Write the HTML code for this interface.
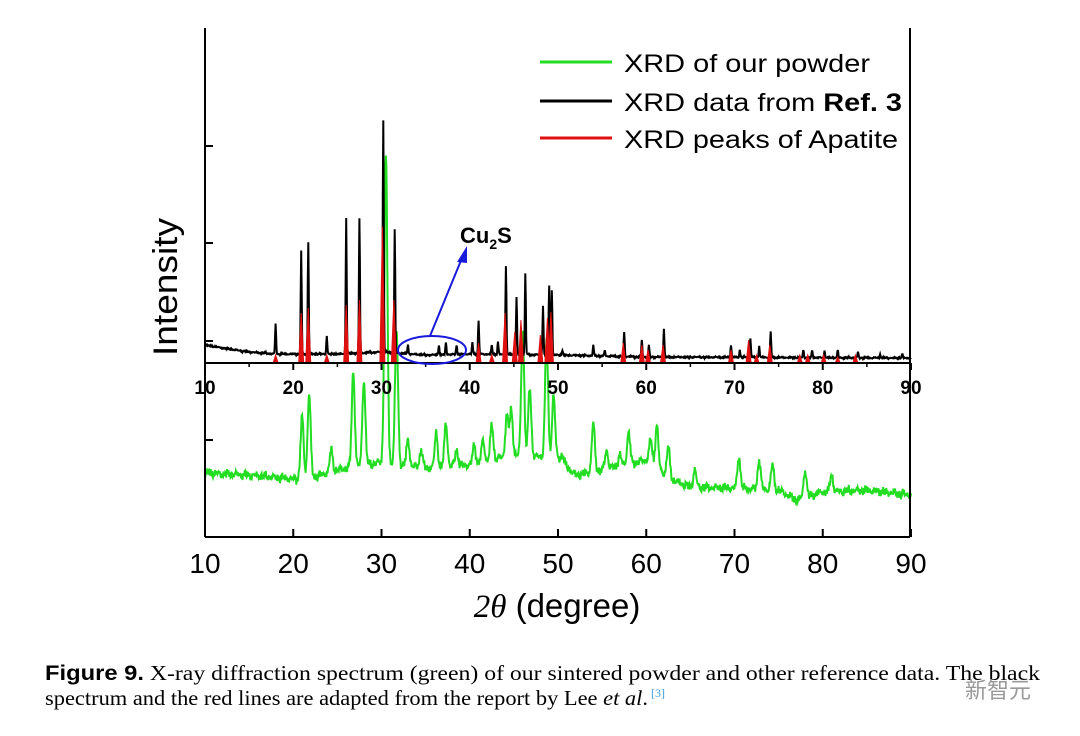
<!DOCTYPE html>
<html><head><meta charset="utf-8"><style>
html,body{margin:0;padding:0;background:#fff;}
svg{display:block;}
</style></head><body>
<svg id="chart" width="1080" height="736" viewBox="0 0 1080 736" xmlns="http://www.w3.org/2000/svg" font-family="Liberation Sans, Arial, sans-serif">
<rect width="1080" height="736" fill="#fff"/>
<g id="plot"></g>
<g id="axes"></g>
<text transform="translate(177,287) rotate(-90)" text-anchor="middle" font-size="34" textLength="138" lengthAdjust="spacingAndGlyphs">Intensity</text>
<text x="557" y="617" text-anchor="middle" font-size="33"><tspan font-family="Liberation Serif, serif" font-style="italic">2θ</tspan> (degree)</text>
<g>
<line x1="540" y1="62" x2="612" y2="62" stroke="#22dd22" stroke-width="3"/>
<text x="624" y="72" font-size="25" textLength="246" lengthAdjust="spacingAndGlyphs">XRD of our powder</text>
<line x1="540" y1="101" x2="612" y2="101" stroke="#000" stroke-width="3"/>
<text x="624" y="111" font-size="25" textLength="278" lengthAdjust="spacingAndGlyphs">XRD data from <tspan font-weight="bold">Ref. 3</tspan></text>
<line x1="540" y1="138" x2="612" y2="138" stroke="#e01010" stroke-width="3"/>
<text x="624" y="148" font-size="25" textLength="274" lengthAdjust="spacingAndGlyphs">XRD peaks of Apatite</text>
</g>
<g>
<ellipse cx="432" cy="350" rx="34" ry="14" fill="none" stroke="#1a1adc" stroke-width="2"/>
<line x1="430" y1="336" x2="462" y2="258" stroke="#1a1adc" stroke-width="2"/>
<polygon points="467,246 457,262 467,263" fill="#1a1adc"/>
<text x="460" y="243" font-size="22" font-weight="bold">Cu<tspan font-size="14" dy="6">2</tspan><tspan dy="-6">S</tspan></text>
</g>
<g font-family="Liberation Serif, serif" font-size="21">
<text x="45" y="680" textLength="995" lengthAdjust="spacingAndGlyphs"><tspan font-family="Liberation Sans, sans-serif" font-weight="bold">Figure 9.</tspan>   X-ray diffraction spectrum (green) of our sintered powder and other reference data. The black</text>
<text x="45" y="705" textLength="603" lengthAdjust="spacingAndGlyphs">spectrum and the red lines are adapted from the report by Lee <tspan font-style="italic">et al</tspan>.</text>
<text x="651" y="697" font-size="12" fill="#3aa0e0">[3]</text>
</g>
<text x="965" y="698" font-family="Noto Sans CJK SC, sans-serif" font-size="22" fill="#999">新智元</text>
</svg>
<script>
// ---- data ----
const greenBgX = [10,15,20,22,25,30,35,40,45,50,52,55,60,63,65,70,75,77,80,85,90];
const greenBgY = [473,475,479,478,470,462,468,465,455,458,475,470,460,480,487,488,490,500,492,490,495];
const greenPeakPos = [21.0,21.8,24.3,26.8,28.0,30.5,31.7,33.0,34.5,36.2,37.3,38.5,40.5,41.5,42.5,44.2,44.7,46.0,46.8,48.7,49.5,50.5,54.0,55.5,57.0,58.0,60.5,61.2,62.5,65.5,70.5,72.8,74.3,78.0,81.0];
const greenPeakTop = [417,393,450,371,380,155,330,440,450,433,423,450,445,440,425,415,410,330,388,340,395,455,423,450,455,432,440,425,447,470,457,460,465,470,475];
const blackBgX = [10,12,15,18,25,30,35,40,50,60,90];
const blackBgY = [345,348,352,354,354,352,355,354,355,357,358];
const blackPeakPos = [18.0,20.9,21.7,23.8,26.0,27.5,30.2,31.5,33.0,36.5,37.3,38.5,40.3,41.0,42.5,43.2,44.1,45.3,46.3,48.3,49.0,49.3,50.5,53.0,54.0,55.3,57.5,59.5,60.3,62.0,69.6,70.6,71.8,72.8,74.1,77.8,78.8,80.2,81.7,84.0,86.5,89.0];
const blackPeakTop = [323,250,242,336,218,218,120,230,345,345,342,345,342,321,345,342,266,297,273,305,285,290,350,355,345,350,332,340,345,328,345,350,338,346,332,350,350,351,350,352,354,354];
const redPos = [18.0,20.9,21.7,23.8,26.0,27.5,30.1,31.4,41.0,42.5,44.0,45.1,45.8,48.0,48.8,49.2,57.4,59.5,60.2,61.9,69.6,71.6,72.5,74.0,77.4,78.3,80.1,81.7,83.7];
const redTop = [355,313,308,355,305,300,227,300,343,355,313,332,320,335,318,312,343,345,350,345,350,340,355,345,355,355,355,357,355];
const xTicks = [10,20,30,40,50,60,70,80,90];
// ---- scales ----
function X(v){ return 205 + (v-10)*8.825; }
function interp(xs, ys, v){ for(let i=0;i<xs.length-1;i++){ if(v<=xs[i+1]){ const t=(v-xs[i])/(xs[i+1]-xs[i]); return ys[i]+t*(ys[i+1]-ys[i]); } } return ys[ys.length-1]; }
const NS='http://www.w3.org/2000/svg';
const plot=document.getElementById('plot'), axes=document.getElementById('axes');
function mk(tag, attrs, parent){ const e=document.createElementNS(NS,tag); for(const k in attrs) e.setAttribute(k,attrs[k]); parent.appendChild(e); return e; }
function jitter(v, a){ return a*(Math.sin(v*37.1)*0.35+Math.sin(v*91.7+1.3)*0.25+Math.sin(v*13.3+0.7)*0.25+Math.sin(v*5.9)*0.3+Math.sin(v*173.9)*0.2); }
function curve(bx,by,pp,pt,w,jit,step){
  let d='';
  for(let v=10; v<=90.0001; v+=step){
    const b=interp(bx,by,v);
    let y=b+jitter(v,jit);
    for(let i=0;i<pp.length;i++){ const h=interp(bx,by,pp[i])-pt[i]; const dx=(v-pp[i])/w; y-=h*Math.exp(-dx*dx); }
    d+=(d?'L':'M')+X(v).toFixed(1)+','+y.toFixed(1);
  }
  return d;
}
const g=mk('path',{d:curve(greenBgX,greenBgY,greenPeakPos,greenPeakTop,0.24,5,0.05),fill:'none',stroke:'#22dd22','stroke-width':2},plot);


const b=mk('path',{d:curve(blackBgX,blackBgY,blackPeakPos,blackPeakTop,0.08,1.0,0.05),fill:'none',stroke:'#000','stroke-width':2},plot);


for(let i=0;i<redPos.length;i++){
  const x=X(redPos[i]);
  const r=mk('polygon',{points:(x-2.5)+',363 '+x+','+redTop[i]+' '+(x+2.5)+',363',fill:'#e01010',stroke:'#e01010','stroke-width':1},plot);
  
  
}
// axes
mk('line',{x1:205,y1:28,x2:205,y2:537,stroke:'#000','stroke-width':2},axes);
mk('line',{x1:910,y1:28,x2:910,y2:537,stroke:'#000','stroke-width':2},axes);
mk('line',{x1:205,y1:537,x2:910,y2:537,stroke:'#000','stroke-width':2},axes);
mk('line',{x1:205,y1:363,x2:910,y2:363,stroke:'#000','stroke-width':2},axes);
[146,243,341,440].forEach(y=>mk('line',{x1:205,y1:y,x2:213,y2:y,stroke:'#000','stroke-width':2},axes));
for(let v=15; v<90; v+=10) mk('line',{x1:X(v),y1:363,x2:X(v),y2:367,stroke:'#000','stroke-width':1.5},axes);
xTicks.forEach(v=>{
  mk('line',{x1:X(v),y1:363,x2:X(v),y2:370,stroke:'#000','stroke-width':2},axes);
  mk('line',{x1:X(v),y1:537,x2:X(v),y2:529,stroke:'#000','stroke-width':2},axes);
  const t1=mk('text',{x:X(v),y:394,'text-anchor':'middle','font-size':19,'font-weight':'bold'},axes); t1.textContent=v;
  
  
  const t2=mk('text',{x:X(v),y:573,'text-anchor':'middle','font-size':28},axes); t2.textContent=v;
  
  
});
</script>
</body></html>
